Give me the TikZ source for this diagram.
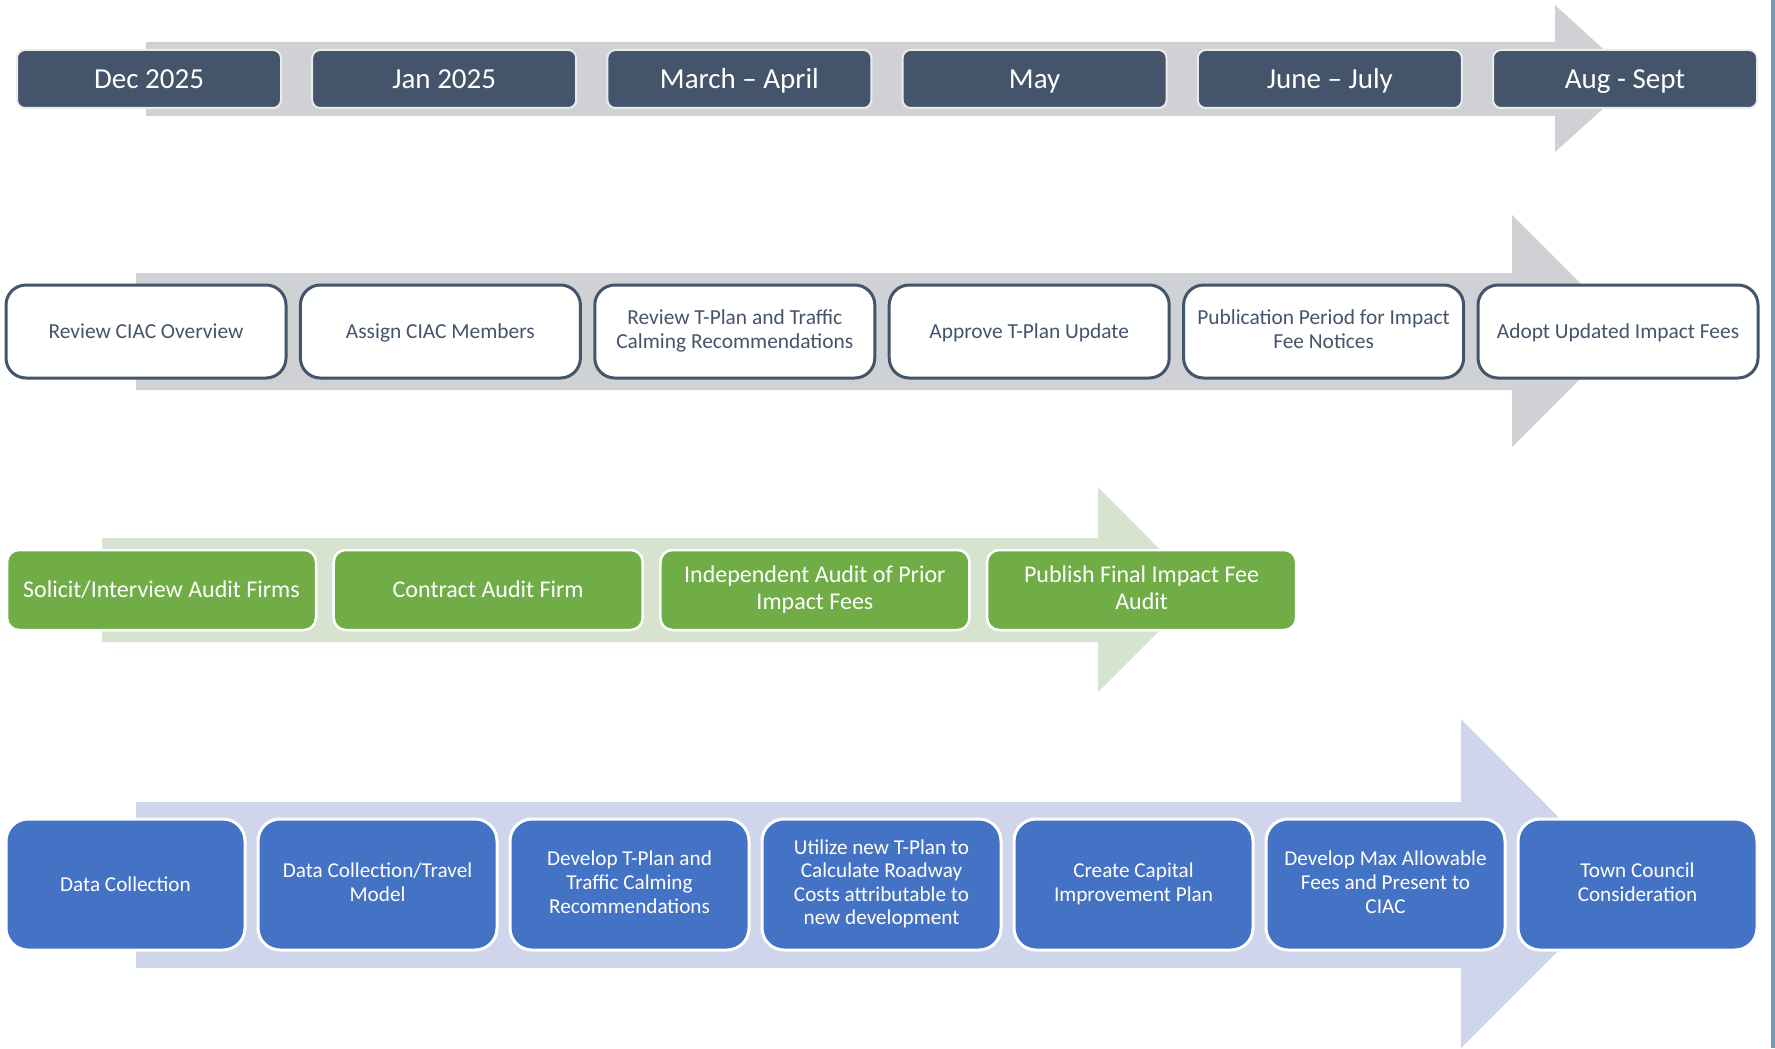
\documentclass[tikz,border=0pt]{standalone}
\usepackage{fontspec}
\setmainfont{Carlito}
\definecolor{slate}{HTML}{44546A}
\definecolor{bandgray}{RGB}{208,209,213}
\definecolor{bandgreen}{RGB}{214,227,207}
\definecolor{bandblue}{RGB}{207,213,234}
\definecolor{auditgreen}{HTML}{70AD47}
\definecolor{stepblue}{HTML}{4472C4}
\definecolor{edgeline}{RGB}{120,156,180}
\newcommand{\boxstrut}{\vrule width 0pt height 0.86em depth 0.22em}
\tikzset{
  every node/.style={execute at begin node=\boxstrut, execute at end node=\boxstrut},
  datebox/.style={draw=white!92!black, line width=1pt, fill=slate, text=white,
    rounded corners=4pt, minimum width=132pt, minimum height=29pt, inner sep=0pt,
    font=\fontsize{14.5}{17}\selectfont},
  taskbox/.style={draw=slate, line width=1.5pt, fill=white, text=slate,
    rounded corners=10pt, minimum width=140pt, minimum height=46.5pt, inner sep=0pt,
    align=center, font=\fontsize{10.7}{11.9}\selectfont},
  auditbox/.style={draw=white, line width=1.25pt, fill=auditgreen, text=white,
    rounded corners=6pt, minimum width=154.5pt, minimum height=40pt, inner sep=0pt,
    align=center, font=\fontsize{12}{13.6}\selectfont},
  stepbox/.style={draw=white, line width=1.5pt, fill=stepblue, text=white,
    rounded corners=11pt, minimum width=119.5pt, minimum height=65.5pt, inner sep=0pt,
    align=center, font=\fontsize{10.6}{11.8}\selectfont}
}
\begin{document}
\begin{tikzpicture}[x=0.5pt,y=-0.5pt]
    \useasboundingbox (0,0) rectangle (1775,1048);
    \fill[edgeline] (1771,0) rectangle (1775,1048); %thin rule at the right edge

    % the four big arrows behind the boxes
    \fill[bandgray] (146,42) -- (1555,42) -- (1555,5) -- (1636,79) -- (1555,152) -- (1555,116) -- (146,116) -- cycle;
    \fill[bandgray] (136,273) -- (1512,273) -- (1512,215) -- (1628,331) -- (1512,447) -- (1512,390) -- (136,390) -- cycle;
    \fill[bandgreen] (102,538) -- (1098,538) -- (1098,487) -- (1200,590) -- (1098,692) -- (1098,642) -- (102,642) -- cycle;
    \fill[bandblue] (136,802) -- (1461,802) -- (1461,719) -- (1625,884) -- (1461,1048) -- (1461,968) -- (136,968) -- cycle;

    \def\dx{295.2} %spacing of the month boxes
    \foreach \lbl [count=\i] in {Dec 2025, Jan 2025, March – April, May, June – July, Aug - Sept}
    {
    \node[datebox] (date\i) at ({149+\dx*(\i-1)},79) {\lbl};
    }

    \def\tx{294.4} %spacing of the CIAC boxes
    \foreach \lbl [count=\i] in {Review CIAC Overview, Assign CIAC Members,
        {Review T-Plan and Traffic\\Calming Recommendations}, Approve T-Plan Update,
        {Publication Period for Impact\\Fee Notices}, Adopt Updated Impact Fees}
    {
    \node[taskbox] (task\i) at ({146+\tx*(\i-1)},331.5) {\lbl};
    }

    \def\ax{326.7} %spacing of the audit boxes
    \foreach \lbl [count=\i] in {Solicit/Interview Audit Firms, Contract Audit Firm,
        {Independent Audit of Prior\\Impact Fees}, {Publish Final Impact Fee\\Audit}}
    {
    \node[auditbox] (audit\i) at ({161.5+\ax*(\i-1)},590) {\lbl};
    }

    \def\sx{252} %spacing of the study boxes
    \foreach \lbl [count=\i] in {Data Collection, {Data Collection/Travel\\Model},
        {Develop T-Plan and\\Traffic Calming\\Recommendations},
        {Utilize new T-Plan to\\Calculate Roadway\\Costs attributable to\\new development},
        {Create Capital\\Improvement Plan},
        {Develop Max Allowable\\Fees and Present to\\CIAC},
        {Town Council\\Consideration}}
    {
    \node[stepbox] (step\i) at ({125.5+\sx*(\i-1)},884.5) {\lbl};
    }
\end{tikzpicture}
\end{document}
